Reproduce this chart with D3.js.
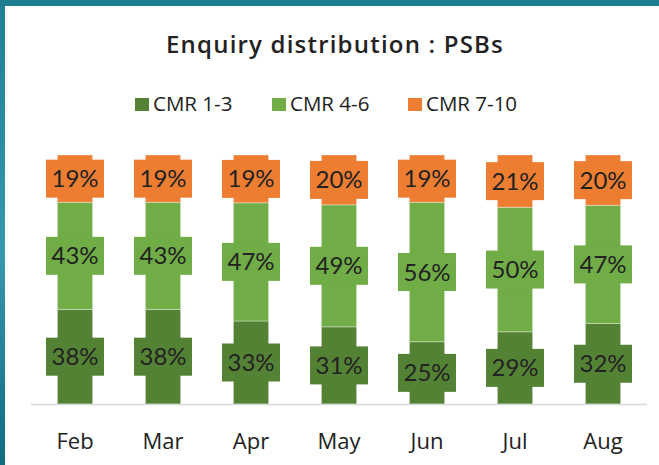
<!DOCTYPE html>
<html>
<head>
<meta charset="utf-8">
<script src="https://cdn.jsdelivr.net/npm/d3@7"></script>
<style>
  body { margin: 0; background: #fff; }
  svg { display: block; }
</style>
</head>
<body>
<div id="chart"></div>
<script>
// data
var months = ["Feb", "Mar", "Apr", "May", "Jun", "Jul", "Aug"]
var series = ["CMR 1-3", "CMR 4-6", "CMR 7-10"]
var cmr13 = [38, 38, 33, 31, 25, 29, 32]
var cmr46 = [43, 43, 47, 49, 56, 50, 47]
var cmr710 = [19, 19, 19, 20, 19, 21, 20]
var colors = ["#548235", "#70ad47", "#ed7d31"]

var width = 659, height = 465
var margin = {top: 155, right: 12, bottom: 61, left: 31}

var rows = months.map(function(m, i) {
  return {month: m, "CMR 1-3": cmr13[i], "CMR 4-6": cmr46[i], "CMR 7-10": cmr710[i]}
})

var svg = d3.select("#chart").append("svg")
  .attr("width", width)
  .attr("height", height)

// teal frame on top and left
var grad = svg.append("defs").append("linearGradient")
  .attr("id", "frame").attr("x1", "0").attr("y1", "0").attr("x2", "0").attr("y2", "1")
grad.append("stop").attr("offset", "0%").attr("stop-color", "#1f7f93")
grad.append("stop").attr("offset", "55%").attr("stop-color", "#3797ab")
grad.append("stop").attr("offset", "100%").attr("stop-color", "#136b80")
svg.append("rect").attr("x", 0).attr("y", 0).attr("width", 5).attr("height", height).attr("fill", "url(#frame)")
svg.append("rect").attr("x", 0).attr("y", 0).attr("width", width).attr("height", 6).attr("fill", "#1c7c90")

svg.append("text")
  .attr("x", 335)
  .attr("y", 53)
  .attr("text-anchor", "middle")
  .style("font-family", "Open Sans")
  .style("font-weight", 600)
  .style("font-size", "24px")
  .style("letter-spacing", "1.2px")
  .attr("fill", "#222")
  .text("Enquiry distribution : PSBs")

// legend
var legendX = [135, 272, 408]
var legend = svg.selectAll(".legend")
  .data(series)
  .enter()
  .append("g")
  .attr("class", "legend")
  .attr("transform", function(d, i) { return "translate(" + legendX[i] + ",98)" })
legend.append("rect")
  .attr("width", 14).attr("height", 13)
  .attr("fill", function(d, i) { return colors[i] })
legend.append("text")
  .attr("x", 18)
  .attr("y", 13)
  .style("font-family", "Open Sans")
  .style("font-size", "20.5px")
  .attr("fill", "#222")
  .text(function(d) { return d })

var g = svg.append("g")

var x = d3.scaleBand()
  .domain(months)
  .range([margin.left, width - margin.right])
  .paddingInner(0.6)
  .paddingOuter(0.3)

var y = d3.scaleLinear()
  .domain([0, 1])
  .range([height - margin.bottom, margin.top])

var stack = d3.stack().keys(series).offset(d3.stackOffsetExpand)
var stacked = stack(rows)

var layer = g.selectAll(".layer")
  .data(stacked)
  .enter()
  .append("g")
  .attr("class", "layer")
  .attr("fill", function(d, i) { return colors[i] })

layer.selectAll("rect")
  .data(function(d) { return d })
  .enter()
  .append("rect")
  .attr("x", function(d) { return x(d.data.month) })
  .attr("y", function(d) { return y(d[1]) })
  .attr("width", x.bandwidth())
  .attr("height", function(d) { return y(d[0]) - y(d[1]) })
  .attr("stroke", "#ffffff")
  .attr("stroke-opacity", 0.35)
  .attr("stroke-width", 1)

// axis line
g.append("line")
  .attr("x1", margin.left)
  .attr("x2", width - margin.right)
  .attr("y1", y(0) + 0.5)
  .attr("y2", y(0) + 0.5)
  .attr("stroke", "#d9d9d9")
  .attr("stroke-width", 1.5)

// value labels with filled boxes
var boxW = 58, boxH = 38
var labels = layer.selectAll(".lbl")
  .data(function(d) {
    return d.map(function(p) { return {p: p, key: d.key} })
  })
  .enter()
  .append("g")
  .attr("class", "lbl")
  .attr("transform", function(d) {
    var cx = x(d.p.data.month) + x.bandwidth() / 2
    var cy = (y(d.p[0]) + y(d.p[1])) / 2
    return "translate(" + cx + "," + cy + ")"
  })
labels.append("rect")
  .attr("x", -boxW / 2)
  .attr("y", -boxH / 2)
  .attr("width", boxW)
  .attr("height", boxH)
labels.append("text")
  .attr("y", 8.5)
  .attr("text-anchor", "middle")
  .style("font-family", "Lato")
  .style("font-size", "24px")
  .attr("fill", "#222")
  .text(function(d) { return d.p.data[d.key] + "%" })

// x axis labels
var xAxis = g.append("g")
  .attr("transform", "translate(0," + y(0) + ")")
  .call(d3.axisBottom(x).tickSize(0).tickPadding(29))
xAxis.select(".domain").remove()
xAxis.selectAll("text")
  .style("font-family", "Open Sans")
  .style("font-size", "22px")
  .attr("fill", "#222")
</script>
</body>
</html>
